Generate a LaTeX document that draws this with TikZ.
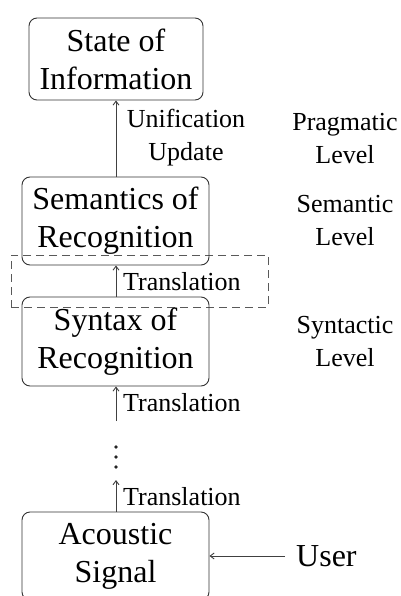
\documentclass[tikz,border=0pt]{standalone}
\usepackage{fontspec}
\setmainfont{Liberation Serif}
\usetikzlibrary{arrows.meta,calc}
\begin{document}
\begin{tikzpicture}[x=1pt,y=-1pt,
  box/.style={draw=black!80,line width=0.9pt,rounded corners=8pt,align=center,
    inner sep=0pt,font=\fontsize{32}{38}\selectfont},
  lab/.style={align=center,inner sep=0pt,font=\fontsize{26}{33}\selectfont},
  conn/.style={draw=black!75,line width=0.9pt,-{Straight Barb[length=4pt,width=6pt]}},
  dashbox/.style={draw=black!65,line width=0.9pt,dash pattern=on 8pt off 5pt}]
\useasboundingbox (0,0) rectangle (400,596);
\node[dashbox,minimum width=257pt,minimum height=52pt] (grp) at (139.5,281) {};
\node[box,minimum width=174pt,minimum height=82pt] (state) at (116,59) {State of\\Information};
\node[box,minimum width=187pt,minimum height=88pt] (sem) at (115.5,221) {Semantics of\\Recognition};
\node[box,minimum width=187pt,minimum height=89pt] (syn) at (115.5,341.5) {Syntax of\\Recognition};
\node[box,minimum width=187pt,minimum height=88pt] (ac) at (115.5,556) {Acoustic\\Signal};
\coordinate (c1) at (116,421);
\coordinate (c2) at (116,480);
\node[inner sep=0pt,minimum size=26pt] (dots) at (116,457) {};
\foreach \dy in {-10,0,10} \fill[black!85] (116,457+\dy) circle (1.8pt);
\draw[conn] (sem.north -| state.south) -- (state.south);
\draw[conn] (syn.north -| state.south) -- (sem.south -| state.south);
\draw[conn] (c1) -- (syn.south -| state.south);
\draw[conn] (ac.north -| state.south) -- (c2);
\node[lab] (uu) at (186,138) {Unification\\Update};
\node[lab,anchor=west] (t1) at (123,282) {Translation};
\node[lab,anchor=west] (t2) at (123,403) {Translation};
\node[lab,anchor=west] (t3) at (123,497) {Translation};
\node[lab] (prag) at (345,139) {Pragmatic\\Level};
\node[lab] (semlev) at (345,221) {Semantic\\Level};
\node[lab] (synlev) at (345,342) {Syntactic\\Level};
\node[inner sep=0pt,anchor=west,font=\fontsize{32}{38}\selectfont] (user) at (296,556) {User};
\draw[conn] ($(user.west)+(-11,0)$) -- (ac.east);
\end{tikzpicture}
\end{document}
